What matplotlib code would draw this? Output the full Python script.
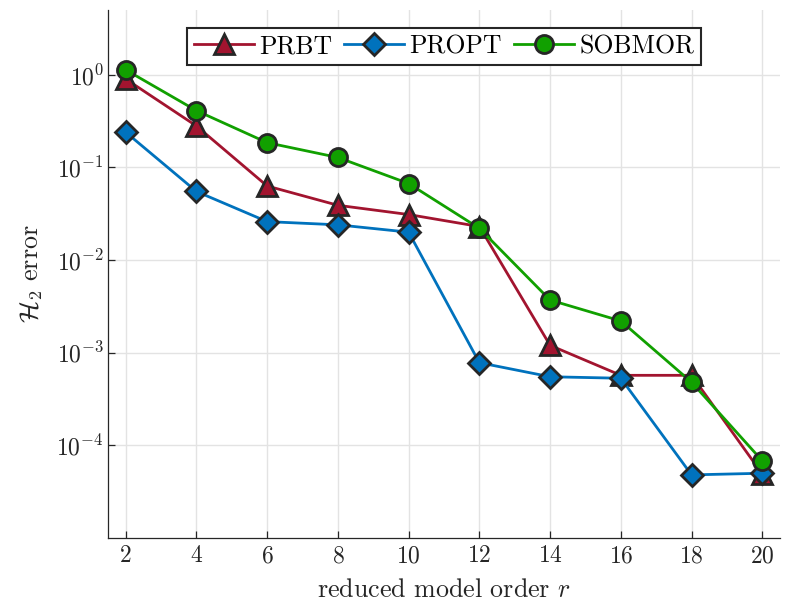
import numpy as np
import matplotlib
matplotlib.use("Agg")
import matplotlib.pyplot as plt
from matplotlib.ticker import NullLocator

matplotlib.rcParams["font.family"] = "cmr10"
matplotlib.rcParams["mathtext.fontset"] = "cm"
matplotlib.rcParams["axes.formatter.use_mathtext"] = True
matplotlib.rcParams["axes.unicode_minus"] = False

r = [2, 4, 6, 8, 10, 12, 14, 16, 18, 20]
prbt = [0.90, 0.28, 0.063, 0.039, 0.031, 0.023, 1.2e-3, 5.7e-4, 5.7e-4, 4.9e-5]
propt = [0.24, 0.055, 0.026, 0.024, 0.020, 7.8e-4, 5.5e-4, 5.3e-4, 4.8e-5, 5.0e-5]
sobmor = [1.13, 0.41, 0.185, 0.128, 0.067, 0.022, 3.7e-3, 2.2e-3, 4.8e-4, 6.8e-5]
labels = ["PRBT", "PROPT", "SOBMOR"]

fig = plt.figure(figsize=(7.88, 6.11), dpi=100)
ax = fig.add_axes([108 / 788, 73 / 611, 672 / 788, 528 / 611])

edge = "#262626"
ax.plot(r, prbt, "-^", color="#A2142F", lw=2, ms=14, mec=edge, mew=2, label=labels[0], zorder=3)
ax.plot(r, propt, "-D", color="#0072BD", lw=2, ms=11, mec=edge, mew=2, label=labels[1], zorder=4)
ax.plot(r, sobmor, "-o", color="#11A000", lw=2, ms=13, mec=edge, mew=2, label=labels[2], zorder=5)

ax.set_yscale("log")
ax.set_xlim(1.5, 20.5)
ax.set_ylim(1e-5, 5)
ax.set_xticks(r)
ax.set_yticks([1e-4, 1e-3, 1e-2, 1e-1, 1e0])
ax.yaxis.set_minor_locator(NullLocator())

ax.grid(True, color="#e3e3e3", lw=1)
ax.set_axisbelow(True)
ax.spines["top"].set_visible(False)
ax.spines["right"].set_visible(False)
for s in ["left", "bottom"]:
    ax.spines[s].set_color("#262626")
    ax.spines[s].set_linewidth(0.9)
ax.tick_params(direction="in", length=5, width=0.9, colors="#262626", labelsize=17, pad=5)
ax.tick_params(axis="y", pad=3)
for t in ax.get_xticklabels() + ax.get_yticklabels():
    t.set_color("#262626")

ax.set_xlabel(r"reduced model order $r$", fontsize=18.7, color="#262626", labelpad=8)
ax.set_ylabel(r"$\mathcal{H}_2$ error", fontsize=18.7, color="#262626", labelpad=8)

leg = ax.legend(loc="upper center", ncol=3, fontsize=18.5, frameon=True, fancybox=False,
                edgecolor="#262626", handlelength=2.35, columnspacing=0.45, handletextpad=0.2,
                borderpad=0.25, borderaxespad=0.5, bbox_to_anchor=(0.5, 0.99))
leg.get_frame().set_linewidth(1.5)
leg.get_frame().set_alpha(1)

plt.savefig("out.png", dpi=100)
